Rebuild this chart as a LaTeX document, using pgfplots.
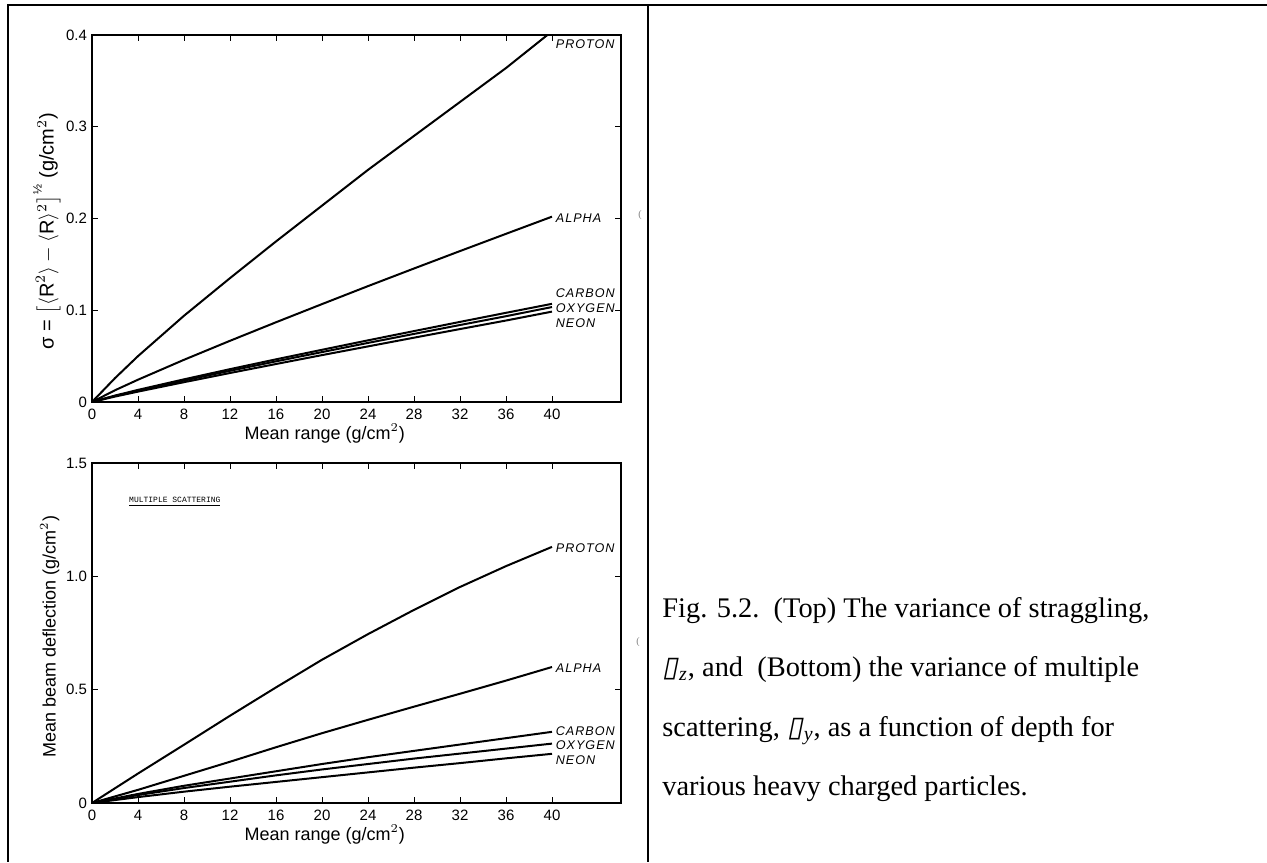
\documentclass[border=0pt]{standalone}
\usepackage{fontspec}
\setmainfont{Liberation Serif}
\newfontfamily\helv{Liberation Sans}
\newfontfamily\helvsp[LetterSpace=8]{Liberation Sans}
\newfontfamily\tinymono{Liberation Mono}
\newfontfamily\boxfont[FakeSlant=0.2]{DejaVu Sans}
\usepackage{pgfplots}
\pgfplotsset{compat=1.18}

\pgfplotsset{
  panel/.style={
    scale only axis, width=264.5pt,
    xmin=0, xmax=46, ymin=0,
    xtick={0,4,...,40},
    tick align=inside, major tick length=3pt,
    axis line style={line width=0.6pt},
    every tick/.style={black, line width=0.5pt},
    tick label style={font=\helv\fontsize{7.5}{8}\selectfont},
    yticklabel style={xshift=1pt},
    /pgf/number format/assume math mode=true,
    label style={font=\helv\fontsize{9}{10}\selectfont},
    xlabel={Mean range (g/cm$^2$)},
    every axis plot post/.append style={black, line width=1pt, mark=none},
    clip=false,
  },
}
\tikzset{lab/.style={font=\helvsp\itshape\fontsize{6.3}{7}\selectfont, anchor=west, inner sep=0pt}}

\begin{document}
\begin{tikzpicture}
\path[use as bounding box] (0,0) rectangle (633.5pt,431pt);
\draw[line width=1pt] (633.5pt,428.5pt) -- (4pt,428.5pt) -- (4pt,0pt);
\draw[line width=1pt] (324pt,428.5pt) -- (324pt,0pt);

% top: straggling
\begin{axis}[panel, at={(46pt,230pt)}, anchor=south west, height=183.5pt,
  ymax=0.4, ytick={0,0.1,0.2,0.3,0.4}, yticklabels={0,0.1,0.2,0.3,0.4},
  xlabel style={at={(axis description cs:0.44,-0.085)}, anchor=center},
  ylabel style={at={(axis description cs:-0.085,0.466)}, anchor=center, font=\helv\fontsize{10}{11}\selectfont},
  ylabel={σ = $\bigl[\langle\hbox{R}^2\rangle - \langle\hbox{R}\rangle^2\bigr]^{\hbox{\fontsize{6}{6}\selectfont ½}}$ (g/cm$^2$)}]
\addplot coordinates {(0,0)(2,0.026)(4,0.050)(8,0.094)(12,0.135)(16,0.175)(20,0.214)(24,0.253)(28,0.290)(32,0.327)(36,0.364)(39.6,0.400)};
\addplot coordinates {(0,0)(2,0.0128)(4,0.0243)(8,0.046)(12,0.0667)(16,0.0869)(20,0.1067)(24,0.1263)(28,0.1455)(32,0.1645)(36,0.1833)(40,0.202)};
\addplot coordinates {(0,0)(2,0.0070)(4,0.0132)(8,0.0247)(12,0.0358)(16,0.0465)(20,0.0569)(24,0.0672)(28,0.0773)(32,0.0873)(36,0.0972)(40,0.1070)};
\addplot coordinates {(0,0)(2,0.0066)(4,0.0124)(8,0.0234)(12,0.0340)(16,0.0443)(20,0.0544)(24,0.0644)(28,0.0742)(32,0.0839)(36,0.0935)(40,0.1035)};
\addplot coordinates {(0,0)(2,0.0059)(4,0.0113)(8,0.0216)(12,0.0316)(16,0.0414)(20,0.0511)(24,0.0606)(28,0.0701)(32,0.0795)(36,0.0888)(40,0.0985)};
\node[lab] at (axis cs:40.3,0.39) {PROTON};
\node[lab] at (axis cs:40.3,0.2) {ALPHA};
\node[lab] at (axis cs:40.3,0.119) {CARBON};
\node[lab] at (axis cs:40.3,0.1025) {OXYGEN};
\node[lab] at (axis cs:40.3,0.086) {NEON};
\end{axis}

% bottom: multiple scattering
\begin{axis}[panel, at={(46pt,29.5pt)}, anchor=south west, height=170pt,
  ymax=1.5, ytick={0,0.5,1,1.5}, yticklabels={0,0.5,1.0,1.5},
  xlabel style={at={(axis description cs:0.44,-0.092)}, anchor=center},
  ylabel style={at={(axis description cs:-0.08,0.49)}, anchor=center},
  ylabel={Mean beam deflection (g/cm$^2$)}]
\addplot coordinates {(0,0)(4,0.13)(8,0.257)(12,0.385)(16,0.51)(20,0.632)(24,0.745)(28,0.852)(32,0.953)(36,1.045)(40,1.13)};
\addplot coordinates {(0,0)(4,0.058)(8,0.12)(12,0.182)(16,0.246)(20,0.308)(24,0.367)(28,0.425)(32,0.482)(36,0.54)(40,0.60)};
\addplot coordinates {(0,0)(4,0.04)(8,0.076)(12,0.108)(16,0.14)(20,0.172)(24,0.202)(28,0.23)(32,0.258)(36,0.286)(40,0.314)};
\addplot coordinates {(0,0)(4,0.035)(8,0.066)(12,0.094)(16,0.122)(20,0.148)(24,0.172)(28,0.196)(32,0.218)(36,0.24)(40,0.262)};
\addplot coordinates {(0,0)(4,0.026)(8,0.05)(12,0.072)(16,0.093)(20,0.114)(24,0.135)(28,0.156)(32,0.176)(36,0.197)(40,0.217)};
\node[lab] at (axis cs:40.3,1.124) {PROTON};
\node[lab] at (axis cs:40.3,0.597) {ALPHA};
\node[lab] at (axis cs:40.3,0.318) {CARBON};
\node[lab] at (axis cs:40.3,0.257) {OXYGEN};
\node[lab] at (axis cs:40.3,0.19) {NEON};
\node[anchor=west, inner sep=0pt, font=\tinymono\fontsize{4}{5}\selectfont] at (axis cs:3.2,1.33) {\underline{MULTIPLE SCATTERING}};
\end{axis}

% stray marks from the scan
\node[font=\fontsize{5}{6}\selectfont, text=gray] at (320pt,323.5pt) {(};
\node[font=\fontsize{5}{6}\selectfont, text=gray] at (319pt,110pt) {(};

% caption
\begin{scope}[every node/.style={anchor=base west, inner sep=0pt, font=\fontsize{14.2}{16}\selectfont}]
\node at (331pt,122.5pt) {Fig. 5.2.\ \ (Top) The variance of straggling,};
\node at (331pt,93pt) {{\boxfont ▯}\kern0.6pt\textsubscript{\itshape z}, and\ \ (Bottom) the variance of multiple};
\node at (331pt,63pt) {scattering, {\boxfont ▯}\kern0.6pt\textsubscript{\itshape y}, as a function of depth for};
\node at (331pt,33.5pt) {various heavy charged particles.};
\end{scope}
\end{tikzpicture}
\end{document}
